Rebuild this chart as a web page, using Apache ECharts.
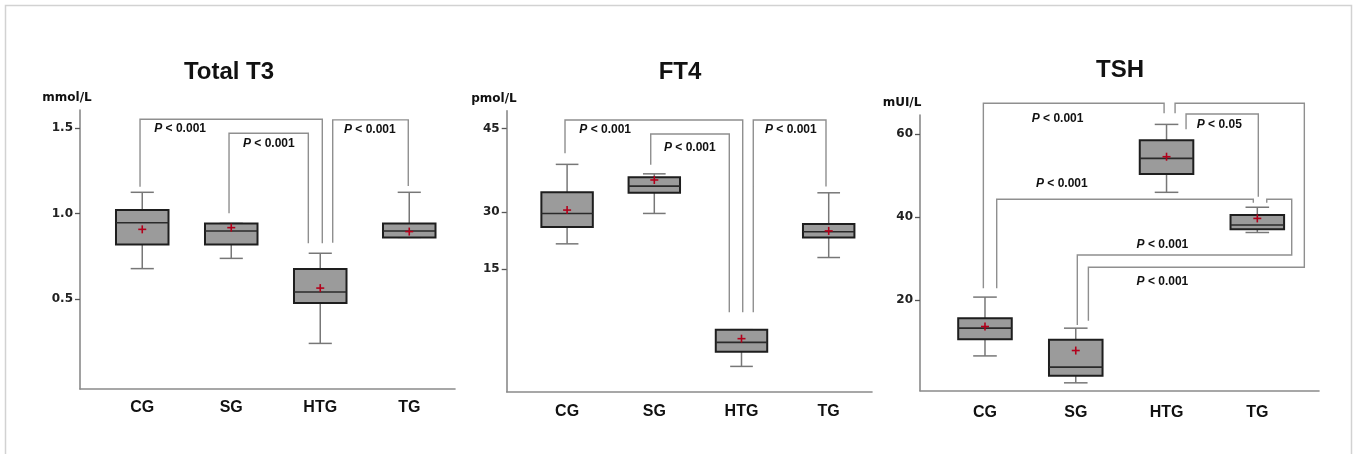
<!DOCTYPE html>
<html>
<head>
<meta charset="utf-8">
<title>Total T3 / FT4 / TSH</title>
<script src="https://cdn.jsdelivr.net/npm/echarts@6/dist/echarts.min.js"></script>
<style>
html, body { margin: 0; padding: 0; background: #fff; }
#chart { width: 1354px; height: 454px; }
</style>
</head>
<body>
<div id="chart"></div>
<script>
// groups
var categories = ['CG', 'SG', 'HTG', 'TG'];

// box values: [low whisker, Q1, median, Q3, high whisker]
var t3Box = [
	[0.678, 0.820, 0.947, 1.021, 1.125],
	[0.738, 0.820, 0.898, 0.943, 0.943],
	[0.240, 0.477, 0.541, 0.676, 0.768],
	[0.861, 0.861, 0.898, 0.943, 1.125]
];
var t3Mean = [0.908, 0.918, 0.564, 0.895];
var t3Ticks = [0.5, 1.0, 1.5];

var ft4Box = [
	[21.7, 26.1, 29.7, 33.6, 38.6],
	[29.7, 33.5, 34.7, 36.3, 36.9],
	[3.1, 4.9, 6.05, 7.6, 7.6],
	[18.1, 23.4, 24.9, 26.9, 33.5]
];
var ft4Mean = [30.4, 35.8, 6.5, 25.1];
var ft4Ticks = [15, 30, 45];

var tshBox = [
	[6.5, 10.5, 13.2, 15.6, 20.7],
	[0.0, 1.7, 3.8, 10.4, 13.2],
	[46.0, 50.4, 54.2, 58.6, 62.4],
	[36.3, 37.1, 38.1, 40.5, 42.4]
];
var tshMean = [13.6, 7.8, 54.6, 39.7];
var tshTicks = [20, 40, 60];

// significance brackets: polyline points [group position, value]
var t3Brackets = [
	[[-0.025, 1.158], [-0.025, 1.553], [2.023, 1.553], [2.023, 0.826]],
	[[0.975, 1.002], [0.975, 1.471], [1.866, 1.471], [1.866, 0.826]],
	[[2.140, 0.830], [2.140, 1.549], [2.989, 1.549], [2.989, 1.162]]
];
var t3Marks = [['P < 0.001', 0.135, 1.496], ['P < 0.001', 1.132, 1.408], ['P < 0.001', 2.267, 1.490]];

var ft4Brackets = [
	[[-0.024, 40.59], [-0.024, 46.56], [2.014, 46.56], [2.014, 9.73]],
	[[0.959, 38.51], [0.959, 44.05], [1.860, 44.05], [1.860, 9.73]],
	[[2.135, 9.73], [2.135, 46.56], [2.969, 46.56], [2.969, 34.63]]
];
var ft4Marks = [['P < 0.001', 0.140, 44.89], ['P < 0.001', 1.111, 41.59], ['P < 0.001', 2.269, 44.77]];

var tshBrackets = [
	[[-0.018, 22.84], [-0.018, 67.5], [1.973, 67.5], [1.973, 65.08]],
	[[2.094, 65.08], [2.094, 67.5], [3.518, 67.5], [3.518, 27.91], [1.139, 27.91], [1.139, 15.02]],
	[[2.215, 61.22], [2.215, 64.91], [3.011, 64.91], [3.011, 44.95]],
	[[0.129, 22.84], [0.129, 44.32], [2.956, 44.32], [2.956, 43.5]],
	[[3.104, 43.5], [3.104, 44.32], [3.379, 44.32], [3.379, 30.88], [1.017, 30.88], [1.017, 13.98]]
];
var tshMarks = [['P < 0.001', 0.515, 63.87], ['P < 0.001', 1.670, 24.43], ['P < 0.05', 2.333, 62.43],
	['P < 0.001', 0.562, 48.18], ['P < 0.001', 1.670, 33.29]];

// the FT4 axis of the figure is not linear (15, 30, 45 are unevenly spaced),
// so values go through a piecewise scale between the printed ticks
var ft4Stops = [0, 15, 30, 45];
var ft4Place = [0, 122.4, 179.4, 263];
function ft4Map(v) {
	var j = 1;
	while (j < ft4Stops.length - 1 && v > ft4Stops[j]) j++;
	return ft4Place[j - 1] + (v - ft4Stops[j - 1]) * (ft4Place[j] - ft4Place[j - 1]) / (ft4Stops[j] - ft4Stops[j - 1]);
}
function same(v) { return v; }

var sans = 'Arial, "Liberation Sans", Helvetica, sans-serif';
var wide = '"DejaVu Sans", Verdana, sans-serif';
var axisGrey = '#8a8a8a';
var lineGrey = '#8f8f8f';

var panels = [
	{ title: 'Total T3', unit: 'mmol/L', box: t3Box, mean: t3Mean, ticks: t3Ticks, brackets: t3Brackets, marks: t3Marks,
		map: same, yMin: -0.027, yMax: 1.607, decimals: 1,
		frame: { left: 80, right: 899, top: 110, bottom: 65 }, plot: { left: 97.75, right: 900.25 },
		titleAt: [229, 72], unitAt: [67, 98], catMargin: 11 },
	{ title: 'FT4', unit: 'pmol/L', box: ft4Box, mean: ft4Mean, ticks: ft4Ticks, brackets: ft4Brackets, marks: ft4Marks,
		map: ft4Map, yMin: 0, yMax: 281, decimals: 0,
		frame: { left: 506.7, right: 482, top: 110.7, bottom: 62.3 }, plot: { left: 523.5, right: 481.7 },
		titleAt: [680, 72], unitAt: [494, 99], catMargin: 12 },
	{ title: 'TSH', unit: 'mUI/L', box: tshBox, mean: tshMean, ticks: tshTicks, brackets: tshBrackets, marks: tshMarks,
		map: same, yMin: -1.9, yMax: 64.67, decimals: 0,
		frame: { left: 920, right: 35, top: 115, bottom: 63.3 }, plot: { left: 939.6, right: 51.3 },
		titleAt: [1120, 70], unitAt: [902, 103], catMargin: 13.5 }
];

function boxRenderer(p) {
	return function(params, api) {
		var i = params.dataIndex;
		var band = api.size([ 1, 0 ])[0];
		var half = band * 0.295, cap = band * 0.13;
		var lo = api.coord([ i, api.value(1) ]);
		var q1 = api.coord([ i, api.value(2) ]);
		var md = api.coord([ i, api.value(3) ]);
		var q3 = api.coord([ i, api.value(4) ]);
		var hi = api.coord([ i, api.value(5) ]);
		var mn = api.coord([ i, api.value(6) ]);
		var x = md[0];
		var wh = { stroke: '#777', lineWidth: 1.5 };
		var red = { stroke: '#b3001b', lineWidth: 1.6 };
		return {
			type : 'group',
			children : [
				{ type: 'line', shape: { x1: x, y1: hi[1], x2: x, y2: q3[1] }, style: wh },
				{ type: 'line', shape: { x1: x, y1: q1[1], x2: x, y2: lo[1] }, style: wh },
				{ type: 'line', shape: { x1: x - cap, y1: hi[1], x2: x + cap, y2: hi[1] }, style: wh },
				{ type: 'line', shape: { x1: x - cap, y1: lo[1], x2: x + cap, y2: lo[1] }, style: wh },
				{ type: 'rect', shape: { x: x - half, y: q3[1], width: 2 * half, height: q1[1] - q3[1] },
					style: { fill: '#9b9b9b', stroke: '#1e1e1e', lineWidth: 2 } },
				{ type: 'line', shape: { x1: x - half, y1: md[1], x2: x + half, y2: md[1] },
					style: { stroke: '#2a2a2a', lineWidth: 1.6 } },
				{ type: 'line', shape: { x1: mn[0] - 4, y1: mn[1], x2: mn[0] + 4, y2: mn[1] }, style: red },
				{ type: 'line', shape: { x1: mn[0], y1: mn[1] - 4, x2: mn[0], y2: mn[1] + 4 }, style: red }
			]
		};
	};
}

// x of a fractional group position, measured from the nearest group centre
function groupX(api, pos, v) {
	var c = Math.max(0, Math.min(categories.length - 1, Math.round(pos)));
	var band = api.size([ 1, 0 ])[0];
	return [ api.coord([ c, v ])[0] + (pos - c) * band, api.coord([ c, v ])[1] ];
}

function bracketRenderer(p) {
	return function(params, api) {
		var pts = p.brackets[params.dataIndex].map(function(q) {
			return groupX(api, q[0], p.map(q[1]));
		});
		return {
			type : 'polyline',
			shape : { points: pts },
			style : { stroke: lineGrey, lineWidth: 1.4, fill: 'none' }
		};
	};
}

function markRenderer(p) {
	return function(params, api) {
		var m = p.marks[params.dataIndex];
		var xy = groupX(api, m[1], p.map(m[2]));
		return {
			type : 'text',
			x : xy[0],
			y : xy[1],
			style : {
				text : '{i|' + m[0].charAt(0) + '}' + m[0].slice(1),
				fontFamily : sans,
				fontWeight : 'bold',
				fontSize : 12,
				fill : '#111',
				align : 'left',
				verticalAlign : 'middle',
				rich : {
					i : { fontFamily: sans, fontWeight: 'bold', fontStyle: 'italic', fontSize: 12, fill: '#111' }
				}
			}
		};
	};
}

var grids = [], xAxes = [], yAxes = [], series = [], graphics = [];

graphics.push({
	type : 'rect',
	shape : { x: 5.5, y: 5.5, width: 1346, height: 470 },
	style : { fill: 'none', stroke: '#d2d2d2', lineWidth: 1.5 },
	silent : true
});

panels.forEach(function(p) {
	var g = grids.length;
	var tickAt = p.ticks.map(p.map);

	// frame grid: axis lines, ticks and tick labels
	grids.push({ left: p.frame.left, right: p.frame.right, top: p.frame.top, bottom: p.frame.bottom });
	// plot grid: groups spread over the band where the boxes sit
	grids.push({ left: p.plot.left, right: p.plot.right, top: p.frame.top, bottom: p.frame.bottom });

	xAxes.push({
		gridIndex : g, type : 'value', min : 0, max : 1,
		axisLine : { show: true, onZero: false, lineStyle: { color: axisGrey, width: 1.6 } },
		axisTick : { show: false }, axisLabel : { show: false }, splitLine : { show: false }
	});
	xAxes.push({
		gridIndex : g + 1, type : 'category', data : categories,
		axisLine : { show: false, onZero: false }, axisTick : { show: false },
		axisLabel : { margin: p.catMargin, fontFamily: sans, fontWeight: 'bold', fontSize: 16, color: '#111' }
	});
	yAxes.push({
		gridIndex : g, type : 'value', min : p.yMin, max : p.yMax,
		axisLine : { show: true, onZero: false, lineStyle: { color: axisGrey, width: 1.6 } },
		axisTick : { show: true, length: 5, customValues: tickAt, lineStyle: { color: '#555', width: 1.3 } },
		axisLabel : {
			customValues : tickAt,
			margin : 7,
			fontFamily : wide,
			fontWeight : 'bold',
			fontSize : 12,
			color : '#222',
			formatter : function(val) {
				var best = 0;
				for (var j = 1; j < tickAt.length; j++) {
					if (Math.abs(tickAt[j] - val) < Math.abs(tickAt[best] - val)) best = j;
				}
				return p.ticks[best].toFixed(p.decimals);
			}
		},
		splitLine : { show: false }
	});
	yAxes.push({ gridIndex: g + 1, type: 'value', min: p.yMin, max: p.yMax, show: false });

	series.push({
		type : 'custom',
		xAxisIndex : g + 1, yAxisIndex : g + 1,
		clip : false, silent : true,
		renderItem : bracketRenderer(p),
		encode : { x: 0, y: 1 },
		data : p.brackets.map(function() { return [ 0, p.yMin ]; }),
		z : 1
	});
	series.push({
		type : 'custom',
		xAxisIndex : g + 1, yAxisIndex : g + 1,
		clip : false, silent : true,
		renderItem : boxRenderer(p),
		encode : { x: 0, y: [ 1, 2, 3, 4, 5, 6 ] },
		data : p.box.map(function(b, i) {
			return [ i ].concat(b.map(p.map), [ p.map(p.mean[i]) ]);
		}),
		z : 2
	});
	series.push({
		type : 'custom',
		xAxisIndex : g + 1, yAxisIndex : g + 1,
		clip : false, silent : true,
		renderItem : markRenderer(p),
		encode : { x: 0, y: 1 },
		data : p.marks.map(function() { return [ 0, p.yMin ]; }),
		z : 3
	});

	graphics.push({
		type : 'text', x : p.titleAt[0], y : p.titleAt[1], silent : true,
		style : { text: p.title, fontFamily: sans, fontWeight: 'bold', fontSize: 24, fill: '#111',
			align: 'center', verticalAlign: 'middle' }
	});
	graphics.push({
		type : 'text', x : p.unitAt[0], y : p.unitAt[1], silent : true,
		style : { text: p.unit, fontFamily: wide, fontWeight: 'bold', fontSize: 12, fill: '#111',
			align: 'center', verticalAlign: 'middle' }
	});
});

var myChart = echarts.init(document.getElementById('chart'));
myChart.setOption({
	animation : false,
	backgroundColor : '#fff',
	grid : grids,
	xAxis : xAxes,
	yAxis : yAxes,
	series : series,
	graphic : graphics
});
</script>
</body>
</html>
